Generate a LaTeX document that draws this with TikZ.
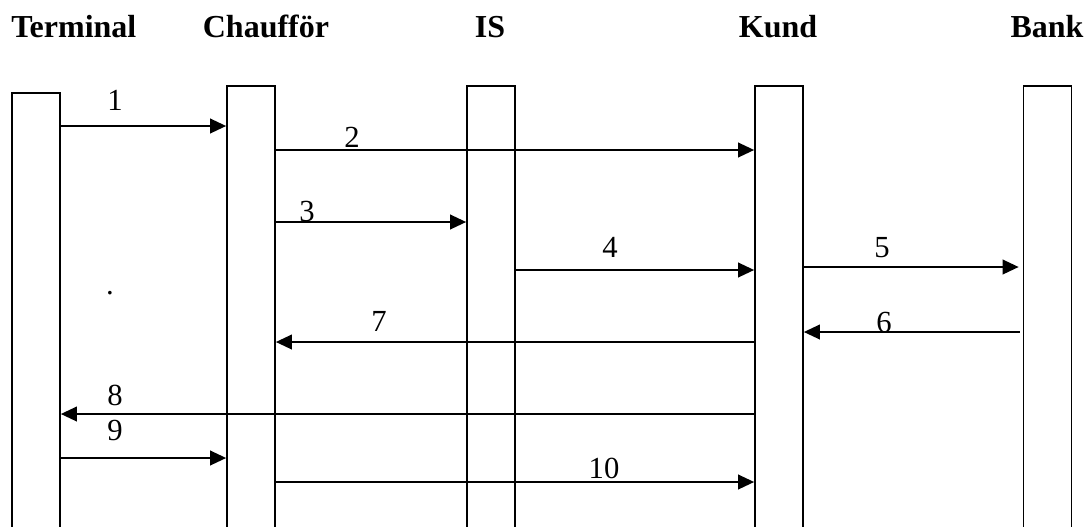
\documentclass[tikz,border=0pt]{standalone}
\usepackage{fontspec}
\setmainfont{Liberation Serif}
\usetikzlibrary{arrows.meta}
\tikzset{
	bar/.style={draw, line width=1.3pt, minimum width=36pt, minimum height=360pt, anchor=north, inner sep=0pt},
	msg/.style={-{Triangle[length=12pt,width=11pt]}, line width=1.3pt},
	head/.style={font=\bfseries\fontsize{24}{28}\selectfont, inner sep=0pt, anchor=base},
	num/.style={font=\fontsize{23}{27}\selectfont, inner sep=0pt, anchor=base}
}

\begin{document}
\begin{tikzpicture}[x=0.75pt, y=-0.75pt]
			\useasboundingbox (0,0) rectangle (1087,526);
			\clip (0,0) rectangle (1087,526);

			% Actors
			\node[head, anchor=base west] (hterm) at (11,37) {Terminal};
			\node[head] (hchauf) at (266,37) {Chaufför};
			\node[head] (his) at (490,37) {IS};
			\node[head] (hkund) at (778,37) {Kund};
			\node[head] (hbank) at (1047,37) {Bank};

			% Lifelines, open at the bottom
			\node[bar] (term) at (36,92) {};
			\node[bar] (chauf) at (251,85) {};
			\node[bar] (is) at (491,85) {};
			\node[bar] (kund) at (779,85) {};
			\node[bar] (bank) at (1047.5,85) {};

			% Messages
			\draw[msg] (term.east |- 0,126) -- (chauf.west |- 0,126);
			\node[num] (n1) at (115,110) {1};
			\draw[msg] (chauf.east |- 0,150) -- (kund.west |- 0,150);
			\node[num] (n2) at (352,147) {2};
			\draw[msg] (chauf.east |- 0,222) -- (is.west |- 0,222);
			\node[num] (n3) at (307,221) {3};
			\draw[msg] (is.east |- 0,270) -- (kund.west |- 0,270);
			\node[num] (n4) at (610,257) {4};
			\draw[msg, shorten >=3pt] (kund.east |- 0,267) -- (bank.west |- 0,267);
			\node[num] (n5) at (882,257) {5};
			\draw[msg, shorten <=2pt] (bank.west |- 0,332) -- (kund.east |- 0,332);
			\node[num] (n6) at (884,332) {6};
			\draw[msg] (kund.west |- 0,342) -- (chauf.east |- 0,342);
			\node[num] (n7) at (379,331) {7};
			\draw[msg] (kund.west |- 0,414) -- (term.east |- 0,414);
			\node[num] (n8) at (115,405) {8};
			\draw[msg] (term.east |- 0,458) -- (chauf.west |- 0,458);
			\node[num] (n9) at (115,440) {9};
			\draw[msg] (chauf.east |- 0,482) -- (kund.west |- 0,482);
			\node[num] (n10) at (604,478) {10};

			\node[num] (dot) at (110,294) {.};
		\end{tikzpicture}
\end{document}
